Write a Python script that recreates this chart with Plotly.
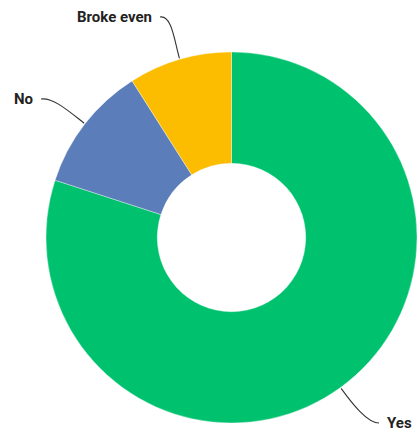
import math
import plotly.graph_objects as go

# Share of respondents by outcome
labels = ["Yes", "No", "Broke even"]
values = [80, 11, 9]
colors = ["#00C26E", "#5B7DBA", "#FCBD00"]

W, H = 417, 432
# pie geometry in pixels
CX, CY, R = 231.5, 237.5, 185.5

fig = go.Figure(go.Pie(
    labels=labels,
    values=values,
    hole=0.40,
    sort=False,
    direction="clockwise",
    rotation=0,
    marker=dict(colors=colors, line=dict(color="rgba(255,255,255,0.6)", width=0.6)),
    textinfo="none",
    hoverinfo="label+percent",
    domain=dict(x=[(CX - R) / W, 1.0], y=[1 - (CY + R) / H, 1 - (CY - R) / H]),
    showlegend=False,
))


def px(x, y):
    return x / W, 1 - y / H


# label placement in pixels
label_pos = {
    "Broke even": dict(tx=154, ty=17, align="right"),
    "No": dict(tx=35, ty=99, align="right"),
    "Yes": dict(tx=385, ty=423, align="left"),
}

total = sum(values)
start = 0.0
shapes = []
annotations = []
for lab, val in zip(labels, values):
    frac = val / total
    mid = (start + frac / 2) * 2 * math.pi  # clockwise from top
    start += frac
    ex = CX + (R + 1) * math.sin(mid)
    ey = CY - (R + 1) * math.cos(mid)
    p = label_pos[lab]
    # curved leader from slice edge to its label
    dirx, diry = math.sin(mid), -math.cos(mid)
    c1x, c1y = ex + dirx * 18, ey + diry * 18
    if p["align"] == "right":
        lx = p["tx"] + 6
        c2x, c2y = lx + 12, p["ty"] - 2
    else:
        lx = p["tx"] - 6
        c2x, c2y = lx - 12, p["ty"]
    ly = p["ty"]
    pts = [px(ex, ey), px(c1x, c1y), px(c2x, c2y), px(lx, ly)]
    path = "M {:.4f},{:.4f} C {:.4f},{:.4f} {:.4f},{:.4f} {:.4f},{:.4f}".format(
        *[c for pt in pts for c in pt])
    shapes.append(dict(type="path", path=path, xref="paper", yref="paper",
                       line=dict(color="#333333", width=1.1)))
    ax, ay = px(p["tx"], p["ty"])
    annotations.append(dict(
        x=ax, y=ay, xref="paper", yref="paper", text="<b>%s</b>" % lab,
        showarrow=False, xanchor="right" if p["align"] == "right" else "left",
        yanchor="middle", font=dict(family="Roboto", size=15, color="#222222"),
    ))

fig.update_layout(
    width=W, height=H,
    margin=dict(l=0, r=0, t=0, b=0),
    paper_bgcolor="white", plot_bgcolor="white",
    shapes=shapes, annotations=annotations,
)

fig.write_html("out.html")
